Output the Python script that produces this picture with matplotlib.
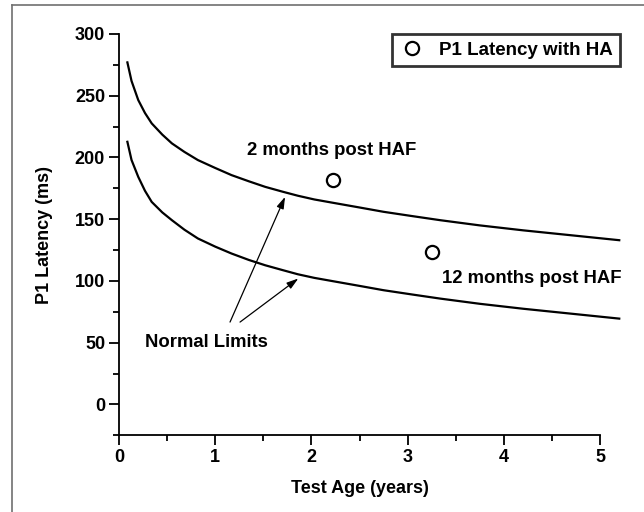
import matplotlib
matplotlib.use("Agg")
import matplotlib.pyplot as plt
from matplotlib.lines import Line2D
from matplotlib.ticker import MultipleLocator

plt.rcParams["font.family"] = ["Liberation Sans", "DejaVu Sans"]
plt.rcParams["font.weight"] = "bold"

# normal limits
age = [0.087, 0.13, 0.20, 0.27, 0.34, 0.45, 0.55, 0.68, 0.82, 1.0, 1.17, 1.35, 1.52,
       1.7, 1.86, 2.03, 2.21, 2.5, 2.75, 3.05, 3.34, 3.75, 4.2, 4.7, 5.2]
upper = [277, 262, 246.5, 236, 227.6, 218.5, 211.4, 204.5, 197.9, 191.5, 185.7, 180.7, 176.2,
         172.3, 169, 166, 163.5, 159.5, 156, 152.5, 149.2, 145, 141, 137, 133]
lower = [212.7, 198, 184.3, 173, 164, 155.5, 149.2, 141.5, 134.4, 127.8, 122.2, 117, 112.7,
         108.8, 105.4, 102.5, 100, 96, 92.5, 89, 85.7, 81.5, 77.5, 73.5, 69.5]

# P1 latency with hearing aid
pt_age = [2.22, 3.25]
pt_lat = [181.7, 123.5]

fig = plt.figure(figsize=(6.44, 5.12), dpi=100)
ax = fig.add_axes([0.1848, 0.1498, 0.7469, 0.7838])

ax.plot(age, upper, color="black", lw=1.6, clip_on=False)
ax.plot(age, lower, color="black", lw=1.6, clip_on=False)
ax.plot(pt_age, pt_lat, "o", ms=9.5, mfc="white", mec="black", mew=1.6,
        label="P1 Latency with HA")

ax.set_xlim(0, 5)
ax.set_ylim(-25, 300)
ax.xaxis.set_major_locator(MultipleLocator(1))
ax.xaxis.set_minor_locator(MultipleLocator(0.5))
ax.yaxis.set_major_locator(MultipleLocator(50))
ax.yaxis.set_minor_locator(MultipleLocator(25))
ax.tick_params(which="major", length=7, width=1.3, labelsize=13, pad=3)
ax.tick_params(which="minor", length=4.5, width=1.3)
for lab in ax.get_xticklabels() + ax.get_yticklabels():
    lab.set_fontweight("bold")
for side in ["top", "right"]:
    ax.spines[side].set_visible(False)
for side in ["left", "bottom"]:
    ax.spines[side].set_linewidth(1.3)

ax.set_xlabel("Test Age (years)", fontsize=13, fontweight="bold", labelpad=10)
ax.set_ylabel("P1 Latency (ms)", fontsize=13, fontweight="bold", labelpad=16)

ax.text(2.21, 206, "2 months post HAF", fontsize=13.3, fontweight="bold",
        ha="center", va="center")
ax.text(4.29, 102, "12 months post HAF", fontsize=13.3, fontweight="bold",
        ha="center", va="center")
ax.text(0.27, 50.5, "Normal Limits", fontsize=13.3, fontweight="bold",
        ha="left", va="center")

arrow = dict(arrowstyle="-|>,head_length=0.7,head_width=0.22", color="black", lw=0.9,
             shrinkA=0, shrinkB=0)
ax.annotate("", xy=(1.726, 168.1), xytext=(1.154, 66.7), arrowprops=arrow)
ax.annotate("", xy=(1.864, 102), xytext=(1.258, 66.7), arrowprops=arrow)

leg = ax.legend(loc="upper right", bbox_to_anchor=(1.0416, 1.0), borderaxespad=0,
                fontsize=13.5, frameon=True, fancybox=False, handletextpad=0.8,
                borderpad=0.4, handlelength=1.3)
leg.get_frame().set_edgecolor("black")
leg.get_frame().set_linewidth(2)

# outer frame (only left and top edges fall inside the picture)
fig.add_artist(Line2D([12 / 644, 12 / 644], [0, 1 - 5 / 512], transform=fig.transFigure,
                      color="#707070", lw=1.2))
fig.add_artist(Line2D([12 / 644, 1], [1 - 5 / 512, 1 - 5 / 512], transform=fig.transFigure,
                      color="#707070", lw=1.2))

fig.savefig("out.png", dpi=100)
